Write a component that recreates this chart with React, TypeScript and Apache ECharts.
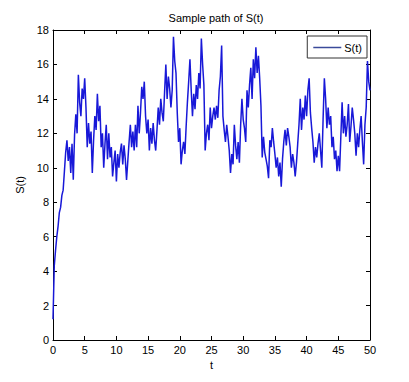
import React, { useEffect, useRef } from "react";
import * as echarts from "echarts";

const T_START = 0;
const T_END = 50;
const sValues: number[] = [
  1.2, 4.3, 5.2, 6.0, 6.6, 7.4, 7.7, 8.4, 8.7, 9.8,
  10.9, 11.6, 10.4, 11.2, 9.7, 11.4, 9.3, 11.9, 13.1, 12.0, 15.4, 13.8, 13.0, 14.6, 14.0, 15.2,
  13.5, 11.2, 12.6, 11.4, 12.1, 9.7, 11.6, 13.0, 12.2, 14.3, 12.7, 13.6, 11.2, 12.0, 10.0,
  11.4, 12.5, 10.5, 12.0, 10.6, 11.2, 9.5, 10.3, 11.0, 9.2,
  10.8, 10.0, 10.9, 11.4, 10.2, 11.3, 10.5, 9.3, 10.4, 11.5,
  12.5, 11.2, 12.1, 11.0, 12.5, 11.2, 13.6, 12.0, 13.2, 14.7,
  14.0, 15.0, 13.0, 12.0, 12.8, 11.0, 12.3, 11.4, 12.6, 11.6,
  11.0, 12.2, 13.5, 12.5, 14.0, 13.2, 12.7, 14.4, 16.0, 14.0,
  15.3, 14.6, 13.5, 14.5, 17.6, 16.2, 15.5, 13.2, 11.5, 12.3,
  10.2, 11.0, 11.5, 10.8, 12.4, 13.8, 15.0, 16.3, 14.5, 13.0,
  14.3, 13.4, 14.8, 14.0, 15.5, 14.6, 17.5, 16.0, 14.8, 11.0,
  12.0, 12.5, 11.6, 13.5, 12.3, 13.0, 13.5, 12.8, 13.6, 12.9,
  14.5, 15.3, 17.1, 13.0, 12.2, 11.5, 12.5, 11.8, 11.0, 9.7,
  10.8, 10.2, 12.5, 11.3, 10.5, 11.5, 10.3, 12.5, 14.0, 12.8,
  12.3, 11.5, 14.5, 13.5, 14.8, 15.8, 14.0, 16.3, 15.2, 17.0,
  15.5, 16.5, 15.2, 13.6, 10.6, 11.8, 10.9, 10.5, 10.1, 9.4,
  11.6, 11.2, 12.3, 11.5, 10.8, 10.0, 10.6, 9.5, 10.3, 8.9,
  10.5, 11.5, 12.2, 11.3, 12.3, 11.8, 11.2, 10.0, 10.8, 10.3,
  9.5, 10.3, 11.4, 12.5, 14.0, 12.2, 13.5, 12.8, 14.2, 13.0,
  14.5, 15.2, 13.2, 12.3, 11.5, 10.3, 11.2, 10.6, 11.4, 12.0,
  11.0, 10.0, 12.8, 15.2, 14.0, 12.3, 13.5, 12.5, 13.0, 11.2,
  11.8, 10.5, 11.0, 9.8, 10.7, 9.8, 11.8, 13.8, 12.0, 13.0,
  11.8, 12.5, 13.7, 11.5, 12.4, 13.5, 12.8, 12.0, 10.7, 12.0,
  11.2, 12.2, 13.0, 11.5, 10.2, 12.5, 13.5, 16.2, 15.0, 14.5,
];

const xTicks = { min: 0, max: 50, interval: 5 };
const yTicks = { min: 0, max: 18, interval: 2 };

export default function App() {
  const ref = useRef<HTMLDivElement>(null);
  useEffect(() => {
    if (!ref.current) return;
    const chart = echarts.init(ref.current, undefined, { renderer: "svg" });
    const n = sValues.length;
    const dt = (T_END - T_START) / (n - 1);
    const data = sValues.map((v, i) => [T_START + i * dt, v]);
    const font = "Liberation Sans, Arial, sans-serif";
    const baseAxis = {
      axisLine: { show: true, onZero: false, lineStyle: { color: "#000", width: 1 } },
      axisTick: { show: true, inside: true, length: 4, lineStyle: { color: "#000" } },
      splitLine: { show: false },
    };
    chart.setOption({
      animation: false,
      backgroundColor: "#fff",
      title: {
        text: "Sample path of S(t)",
        left: 211,
        top: 7,
        textAlign: "center",
        textStyle: { fontFamily: font, fontSize: 11, fontWeight: "normal", color: "#000" },
      },
      legend: {
        data: ["S(t)"],
        right: 42,
        top: 36,
        padding: [6, 5, 5, 6],
        backgroundColor: "#fff",
        borderColor: "#333",
        borderWidth: 1,
        icon: "rect",
        itemWidth: 28,
        itemHeight: 1.5,
        itemGap: 4,
        textStyle: { fontFamily: font, fontSize: 11, color: "#000", padding: [0, 0, 0, -2] },
      },
      grid: { left: 53, right: 39, top: 30, bottom: 42 },
      xAxis: [
        {
          type: "value",
          position: "bottom",
          ...xTicks,
          ...baseAxis,
          name: "t",
          nameLocation: "middle",
          nameGap: 17,
          nameTextStyle: { fontFamily: font, fontSize: 11, color: "#000" },
          axisLabel: { fontFamily: font, fontSize: 11, color: "#000", margin: 4 },
        },
        {
          type: "value",
          position: "top",
          ...xTicks,
          ...baseAxis,
          axisLabel: { show: false },
        },
      ],
      yAxis: [
        {
          type: "value",
          position: "left",
          ...yTicks,
          ...baseAxis,
          name: "S(t)",
          nameLocation: "middle",
          nameGap: 20,
          nameRotate: 90,
          nameTextStyle: { fontFamily: font, fontSize: 11, color: "#000" },
          axisLabel: { fontFamily: font, fontSize: 11, color: "#000", margin: 4 },
        },
        {
          type: "value",
          position: "right",
          ...yTicks,
          ...baseAxis,
          axisLabel: { show: false },
        },
      ],
      series: [
        {
          name: "S(t)",
          type: "line",
          data,
          xAxisIndex: 0,
          yAxisIndex: 0,
          showSymbol: false,
          symbol: "none",
          lineStyle: { color: "#1818d8", width: 1.5 },
          itemStyle: { color: "#3a4a9a" },
        },
      ],
    });
    return () => chart.dispose();
  }, []);
  return <div ref={ref} style={{ width: 409, height: 382, margin: -8 }} />;
}
